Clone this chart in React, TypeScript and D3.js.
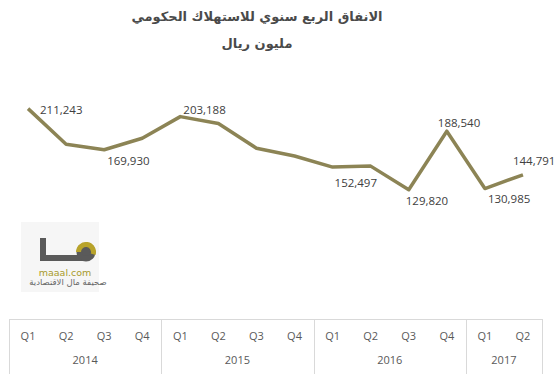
import React, { useEffect, useRef } from "react";
import * as d3 from "d3";

// quarterly government consumption spending (million riyals)
const quarters = ["Q1", "Q2", "Q3", "Q4", "Q1", "Q2", "Q3", "Q4", "Q1", "Q2", "Q3", "Q4", "Q1", "Q2"];
const yearOf = [2014, 2014, 2014, 2014, 2015, 2015, 2015, 2015, 2016, 2016, 2016, 2016, 2017, 2017];
const years = [2014, 2015, 2016, 2017];
const values = [211243, 175500, 169930, 181500, 203188, 196300, 171500, 163600, 152497, 153500, 129820, 188540, 130985, 144791];
// which points carry a value label
const labelled = [0, 2, 4, 8, 10, 11, 12, 13];

const titleLines = ["الانفاق الربع سنوي للاستهلاك الحكومي", "مليون ريال"];

// label nudges, same order as `labelled`
const labelOffsets = [[12, 1], [3, 11], [3, -7], [2, 15], [-3, 11], [-9, -9], [3, 10], [-10, -14]];

const App = () => {
    const svgRef = useRef<SVGSVGElement>(null);

    useEffect(() => {
        const width = 556, height = 374;
        const left = 9, right = 542, axisY = 319, top = 70;

        const svg = d3.select(svgRef.current)
            .attr("width", width)
            .attr("height", height);

        svg.selectAll("*").remove();

        svg.append("rect").attr("width", width).attr("height", height).attr("fill", "#fff");

        const x = d3.scaleBand<number>()
            .domain(d3.range(values.length))
            .range([left, right])
            .padding(0);

        const y = d3.scaleLinear()
            .domain([0, 250000])
            .range([axisY, top]);

        const cx = (i: number) => (x(i) as number) + x.bandwidth() / 2;

        // title
        svg.selectAll(".title")
            .data(titleLines)
            .enter()
            .append("text")
            .attr("x", 257)
            .attr("y", (d, i) => 16 + i * 27)
            .attr("dominant-baseline", "central")
            .attr("text-anchor", "middle")
            .attr("direction", "rtl")
            .attr("font-family", "DejaVu Sans")
            .attr("font-weight", "bold")
            .attr("font-size", 13)
            .attr("fill", "#4a4a4a")
            .text(d => d);

        // logo (rough)
        const logo = svg.append("g");
        logo.append("rect").attr("x", 21).attr("y", 222).attr("width", 78).attr("height", 70).attr("fill", "#f6f6f6");
        logo.append("rect").attr("x", 40).attr("y", 238).attr("width", 6).attr("height", 23).attr("fill", "#5a5a5a");
        logo.append("rect").attr("x", 40).attr("y", 255).attr("width", 46).attr("height", 6).attr("fill", "#5a5a5a");
        const arc = d3.arc<any>();
        logo.append("circle").attr("cx", 86).attr("cy", 252).attr("r", 9.5).attr("fill", "#5a5a5a");
        logo.append("path")
            .attr("transform", "translate(86,252)")
            .attr("d", arc({ innerRadius: 5, outerRadius: 10, startAngle: -Math.PI / 2, endAngle: Math.PI * 0.6 }))
            .attr("fill", "#b8a32a");
        logo.append("circle").attr("cx", 86).attr("cy", 252).attr("r", 4).attr("fill", "#5a5a5a");
        logo.append("text")
            .attr("x", 65).attr("y", 272)
            .attr("text-anchor", "middle").attr("dominant-baseline", "central")
            .attr("font-family", "DejaVu Sans").attr("font-size", 9.5)
            .attr("fill", "#a89a2a")
            .text("maaal.com");
        logo.append("text")
            .attr("x", 68).attr("y", 282)
            .attr("text-anchor", "middle").attr("dominant-baseline", "central")
            .attr("direction", "rtl")
            .attr("font-family", "DejaVu Sans").attr("font-size", 8.5)
            .attr("fill", "#666")
            .text("صحيفة مال الاقتصادية");

        // category axis
        const axis = svg.append("g").attr("stroke", "#d9d9d9").attr("stroke-width", 1);
        axis.append("line")
            .attr("x1", left).attr("x2", right)
            .attr("y1", axisY + 0.5).attr("y2", axisY + 0.5);

        const bounds = years.map(yr => {
            const idx = d3.range(values.length).filter(i => yearOf[i] === yr);
            return { yr, x0: x(idx[0]) as number, x1: (x(idx[idx.length - 1]) as number) + x.bandwidth() };
        });
        const seps = [bounds[0].x0, ...bounds.map(b => b.x1)];
        axis.selectAll(".sep")
            .data(seps)
            .enter()
            .append("line")
            .attr("x1", d => Math.round(d) + 0.5).attr("x2", d => Math.round(d) + 0.5)
            .attr("y1", axisY).attr("y2", height);

        svg.selectAll(".q")
            .data(quarters)
            .enter()
            .append("text")
            .attr("x", (d, i) => cx(i))
            .attr("y", 335)
            .attr("text-anchor", "middle")
            .attr("dominant-baseline", "central")
            .attr("font-family", "Open Sans")
            .attr("font-size", 11)
            .attr("fill", "#595959")
            .text(d => d);

        svg.selectAll(".yr")
            .data(bounds)
            .enter()
            .append("text")
            .attr("x", d => (d.x0 + d.x1) / 2)
            .attr("y", 359)
            .attr("text-anchor", "middle")
            .attr("dominant-baseline", "central")
            .attr("font-family", "Open Sans")
            .attr("font-size", 11)
            .attr("fill", "#595959")
            .text(d => d.yr);

        // line
        const line = d3.line<number>()
            .x((d, i) => cx(i))
            .y(d => y(d));

        svg.append("path")
            .datum(values)
            .attr("d", line)
            .attr("fill", "none")
            .attr("stroke", "#8c8455")
            .attr("stroke-width", 3.5)
            .attr("stroke-linejoin", "round");

        // value labels
        svg.selectAll(".lbl")
            .data(labelled)
            .enter()
            .append("text")
            .attr("x", (d, k) => cx(d) + labelOffsets[k][0])
            .attr("y", (d, k) => y(values[d]) + labelOffsets[k][1])
            .attr("dominant-baseline", "central")
            .attr("font-family", "Open Sans")
            .attr("font-size", 11.5)
            .attr("fill", "#404040")
            .text(d => d3.format(",")(values[d]));
    }, []);

    return <svg ref={svgRef} style={{ position: "absolute", left: 0, top: 0, display: "block" }}></svg>;
};

export default App;
